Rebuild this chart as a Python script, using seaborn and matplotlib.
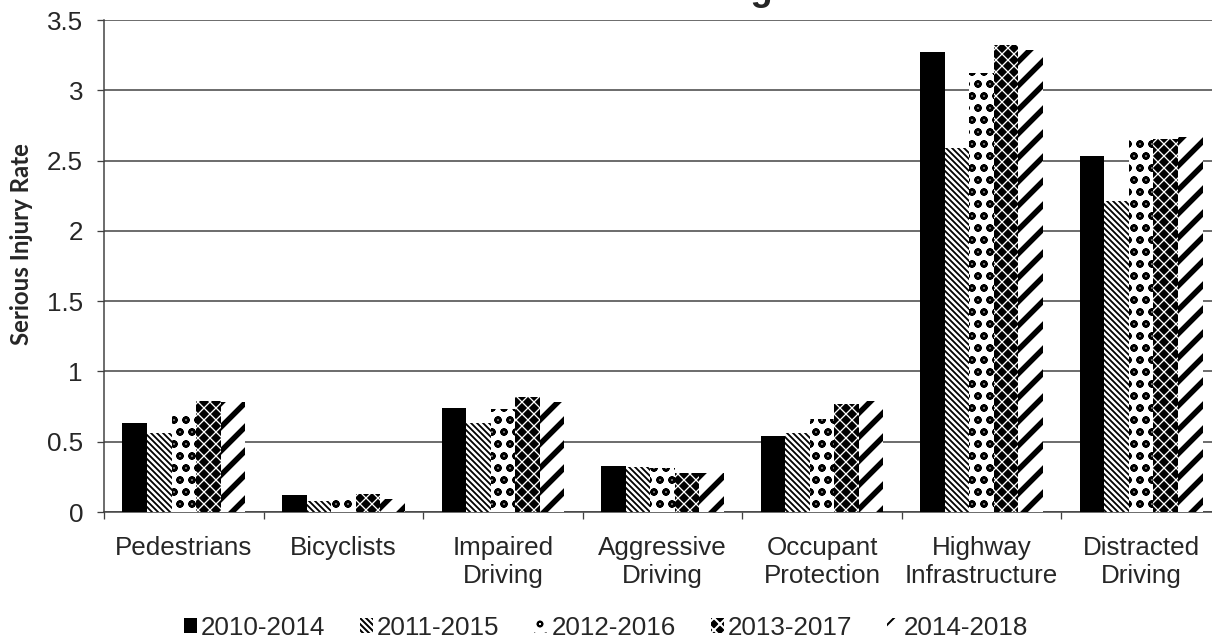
import matplotlib
matplotlib.use("Agg")
import matplotlib.pyplot as plt
import numpy as np
import pandas as pd
import seaborn as sns

# Emphasis areas (x categories) and five-year reporting periods (hue)
areas = ["Pedestrians", "Bicyclists", "Impaired\nDriving", "Aggressive\nDriving",
         "Occupant\nProtection", "Highway\nInfrastructure", "Distracted\nDriving"]
periods = ["2010-2014", "2011-2015", "2012-2016", "2013-2017", "2014-2018"]

# Serious injury rate per emphasis area, one list per period
rate_2010_2014 = [0.63, 0.12, 0.74, 0.33, 0.54, 3.27, 2.53]
rate_2011_2015 = [0.56, 0.08, 0.63, 0.32, 0.56, 2.59, 2.21]
rate_2012_2016 = [0.70, 0.10, 0.73, 0.31, 0.66, 3.12, 2.67]
rate_2013_2017 = [0.79, 0.13, 0.82, 0.28, 0.77, 3.32, 2.65]
rate_2014_2018 = [0.78, 0.09, 0.78, 0.28, 0.79, 3.29, 2.67]

yticks = [0, 0.5, 1, 1.5, 2, 2.5, 3, 3.5]
ytick_labels = ["0", "0.5", "1", "1.5", "2", "2.5", "3", "3.5"]

series = [rate_2010_2014, rate_2011_2015, rate_2012_2016, rate_2013_2017, rate_2014_2018]
df = pd.DataFrame({
    "area": np.repeat([areas], len(periods), axis=0).ravel(),
    "period": np.repeat(periods, len(areas)),
    "rate": np.concatenate(series),
})

sns.set_theme(style="white")
plt.rcParams["font.family"] = ["Liberation Sans", "DejaVu Sans"]
plt.rcParams["hatch.linewidth"] = 2.0

W, H, DPI = 1212, 642, 72
fig = plt.figure(figsize=(W / DPI, H / DPI), dpi=DPI)
ax = fig.add_axes([104 / W, 1 - 512 / H, (1221 - 104) / W, (512 - 20) / H])

sns.barplot(data=df, x="area", y="rate", hue="period", order=areas,
            hue_order=periods, width=0.769, palette=["black"] * 5,
            linewidth=0, saturation=1, legend=False, ax=ax, zorder=3)

# fill pattern per period: (face, hatch colour, hatch, hatch linewidth)
styles = [
    ("black", "black", None, 1.0),
    ("white", "black", "\\\\\\\\", 1.8),
    ("white", "black", "o", 2.6),
    ("black", "white", "xx", 1.3),
    ("white", "black", "/", 5.5),
]
for cont, (fc, hc, hatch, hlw) in zip(ax.containers, styles):
    for bar in cont.patches:
        bar.set_facecolor(fc)
        bar.set_edgecolor(hc)
        bar.set_linewidth(0)
        if hatch:
            bar.set_hatch(hatch)
            if hasattr(bar, "set_hatch_linewidth"):
                bar.set_hatch_linewidth(hlw)

ax.set_xlim(-0.5, len(areas) - 0.5)
ax.set_ylim(0, 3.5)
ax.set_yticks(yticks)
ax.set_yticklabels(ytick_labels, fontsize=26)
ax.set_xticks(np.arange(-0.5, len(areas), 1.0))
ax.set_xticklabels([])
ax.set_xticks(np.arange(len(areas)), minor=True)
ax.set_xticklabels(areas, minor=True, fontsize=26, linespacing=1.2)
ax.tick_params(axis="x", which="major", direction="out", length=7, width=1.3,
               color="#404040", bottom=True)
ax.tick_params(axis="x", which="minor", length=0, pad=24)
ax.tick_params(axis="y", direction="out", length=7, width=1.3, color="#404040",
               left=True, pad=14)
ax.set_xlabel("")
ax.set_ylabel("")

ax.yaxis.grid(True, color="#404040", linewidth=1.5, zorder=0)
ax.set_axisbelow(True)
for side in ["top", "right"]:
    ax.spines[side].set_visible(False)
for side in ["left", "bottom"]:
    ax.spines[side].set_color("#404040")
    ax.spines[side].set_linewidth(1.5)

fig.text(22 / W, 1 - 244 / H, "Serious Injury Rate", rotation=90,
         ha="center", va="center", fontsize=24, fontweight="bold",
         family=["Lato", "DejaVu Sans"])

fig.text(612 / W, 1.0, "Statewide Ranking", ha="center", va="baseline",
         fontsize=36, fontweight="bold")

ax.legend(handles=ax.containers, labels=periods, loc="center",
          bbox_to_anchor=(606 / W, 1 - 628 / H), bbox_transform=fig.transFigure,
          ncol=5, frameon=False, fontsize=26, handlelength=0.5,
          handleheight=0.5, handletextpad=0.15, columnspacing=1.35,
          borderpad=0, borderaxespad=0)

fig.savefig("out.png", dpi=DPI)
